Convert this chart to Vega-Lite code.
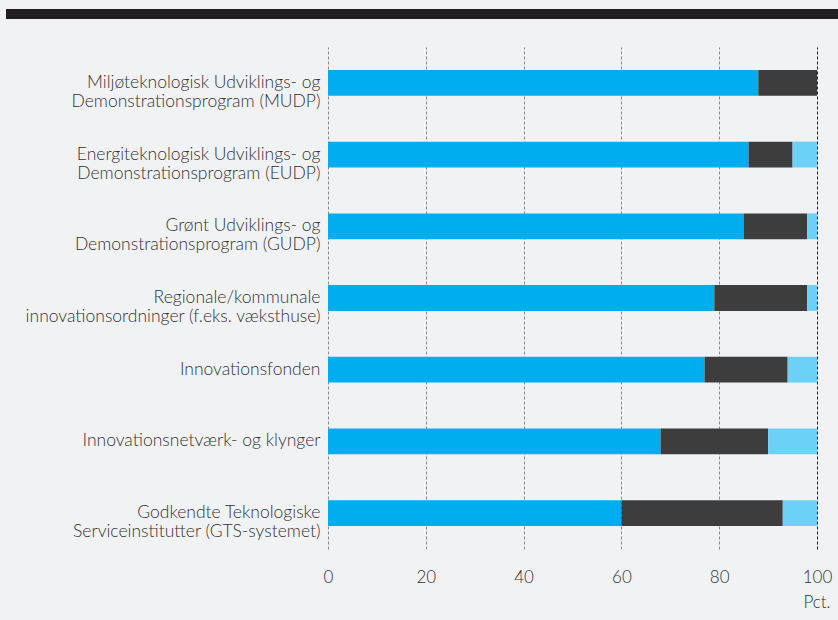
{
  "$schema": "https://vega.github.io/schema/vega-lite/v6.json",
  "background": "#f1f2f4",
  "padding": {"left": 6, "top": 8, "right": 0, "bottom": 12},
  "spacing": 28,
  "bounds": "flush",
  "config": {
    "font": "Lato",
    "view": {"stroke": null}
  },
  "vconcat": [
    {
      "width": 832,
      "height": 10,
      "view": {"fill": "#231f20", "stroke": null},
      "data": {"values": [{}]},
      "mark": {"type": "text", "text": ""},
      "encoding": {}
    },
    {
      "bounds": "flush",
      "spacing": 0,
      "hconcat": [
        {
          "width": 322,
          "height": 502,
          "data": {"values": [{}]},
          "mark": {"type": "text", "text": ""},
          "encoding": {}
        },
        {
          "width": 489,
          "height": 502,
          "data": {
            "values": [
              {"label": "Miljøteknologisk Udviklings- og|Demonstrationsprogram (MUDP)", "svar": "Ja", "pct": 88},
              {"label": "Miljøteknologisk Udviklings- og|Demonstrationsprogram (MUDP)", "svar": "Nej", "pct": 12},
              {"label": "Miljøteknologisk Udviklings- og|Demonstrationsprogram (MUDP)", "svar": "Ved ikke", "pct": 0},
              {"label": "Energiteknologisk Udviklings- og|Demonstrationsprogram (EUDP)", "svar": "Ja", "pct": 86},
              {"label": "Energiteknologisk Udviklings- og|Demonstrationsprogram (EUDP)", "svar": "Nej", "pct": 9},
              {"label": "Energiteknologisk Udviklings- og|Demonstrationsprogram (EUDP)", "svar": "Ved ikke", "pct": 5},
              {"label": "Grønt Udviklings- og|Demonstrationsprogram (GUDP)", "svar": "Ja", "pct": 85},
              {"label": "Grønt Udviklings- og|Demonstrationsprogram (GUDP)", "svar": "Nej", "pct": 13},
              {"label": "Grønt Udviklings- og|Demonstrationsprogram (GUDP)", "svar": "Ved ikke", "pct": 2},
              {"label": "Regionale/kommunale|innovationsordninger (f.eks. væksthuse)", "svar": "Ja", "pct": 79},
              {"label": "Regionale/kommunale|innovationsordninger (f.eks. væksthuse)", "svar": "Nej", "pct": 19},
              {"label": "Regionale/kommunale|innovationsordninger (f.eks. væksthuse)", "svar": "Ved ikke", "pct": 2},
              {"label": "Innovationsfonden", "svar": "Ja", "pct": 77},
              {"label": "Innovationsfonden", "svar": "Nej", "pct": 17},
              {"label": "Innovationsfonden", "svar": "Ved ikke", "pct": 6},
              {"label": "Innovationsnetværk- og klynger", "svar": "Ja", "pct": 68},
              {"label": "Innovationsnetværk- og klynger", "svar": "Nej", "pct": 22},
              {"label": "Innovationsnetværk- og klynger", "svar": "Ved ikke", "pct": 10},
              {"label": "Godkendte Teknologiske|Serviceinstitutter (GTS-systemet)", "svar": "Ja", "pct": 60},
              {"label": "Godkendte Teknologiske|Serviceinstitutter (GTS-systemet)", "svar": "Nej", "pct": 33},
              {"label": "Godkendte Teknologiske|Serviceinstitutter (GTS-systemet)", "svar": "Ved ikke", "pct": 7}
            ]
          },
          "mark": {"type": "bar"},
          "encoding": {
            "y": {
              "field": "label",
              "type": "nominal",
              "sort": null,
              "scale": {"paddingInner": 0.64, "paddingOuter": 0.32},
              "axis": {
                "title": null,
                "domain": false,
                "ticks": false,
                "labelExpr": "split(datum.label, '|')",
                "labelFontSize": 17.5,
                "labelFontWeight": 300,
                "labelColor": "#333333",
                "labelLineHeight": 19,
                "labelPadding": 8,
                "labelLimit": 330
              }
            },
            "x": {
              "field": "pct",
              "type": "quantitative",
              "stack": "zero",
              "scale": {"domain": [0, 100], "nice": false},
              "axis": {
                "values": [0, 20, 40, 60, 80, 100],
                "title": "Pct.",
                "titleFontSize": 17,
                "titleFontWeight": 300,
                "titleColor": "#333333",
                "titleAlign": "right",
                "titleX": 502,
                "titlePadding": 9,
                "domain": false,
                "ticks": false,
                "labelPadding": 20,
                "labelFlush": false,
                "labelFontSize": 17,
                "labelFontWeight": 300,
                "labelColor": "#333333",
                "grid": true,
                "gridDash": [3, 2],
                "gridColor": {"condition": {"test": "datum.value === 100", "value": "#222222"}, "value": "#8a8a8a"},
                "gridWidth": 1
              }
            },
            "color": {
              "field": "svar",
              "type": "nominal",
              "scale": {"domain": ["Ja", "Nej", "Ved ikke"], "range": ["#00aeef", "#3d3d3d", "#6dd0f7"]},
              "legend": null
            },
            "order": {"field": "svar", "sort": "ascending"}
          }
        }
      ]
    }
  ]
}
